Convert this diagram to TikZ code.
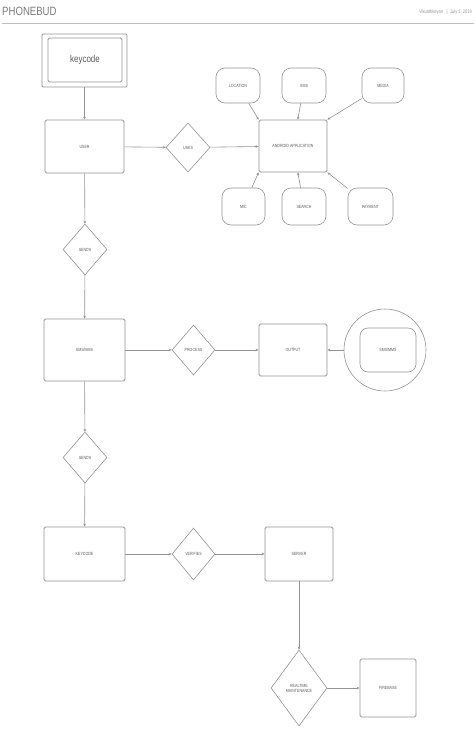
\documentclass[tikz,border=0pt]{standalone}
\usepackage{fontspec}
\setmainfont{Liberation Sans}
\newfontfamily\cond[FakeStretch=0.8]{Liberation Sans}
\usetikzlibrary{arrows.meta,shapes.geometric,calc}
\definecolor{ln}{HTML}{939393}
\definecolor{tx}{HTML}{5A5A5A}
\tikzset{
  lbl/.style={text=tx,font=\cond\fontsize{4.5}{5}\selectfont,align=center,inner sep=0pt},
  box/.style={draw=ln,line width=0.8pt,rounded corners=1.5pt,lbl},
  pill/.style={draw=ln,line width=0.6pt,rounded corners=9pt,lbl},
  dia/.style={draw=ln,line width=0.6pt,diamond,lbl},
  arr/.style={draw=ln,line width=0.6pt,-{Stealth[length=3pt,width=2.6pt]}},
}
\begin{document}
\begin{tikzpicture}[x=1pt,y=-1pt]
\useasboundingbox (0,0) rectangle (474,730);
% header
\node[anchor=west,text=ln!85!black,font=\cond\fontsize{12}{12}\selectfont,inner sep=0pt] (title) at (2,11) {PHONEBUD};
\node[anchor=east,text=ln,font=\cond\fontsize{5}{5}\selectfont,inner sep=0pt] (auth) at (472,12) {Vikunthkeyan \enspace|\enspace July 1, 2019};
\draw[ln!60,line width=0.5pt] (2,23) -- (474,23);
% keycode
\node[draw=ln,line width=0.8pt,minimum width=85pt,minimum height=53pt,rounded corners=1pt] (kco) at (84.5,60.5) {};
\node[box,minimum width=74pt,minimum height=44pt,font=\cond\fontsize{10}{10}\selectfont,text=tx] (kc) at (85,60) {keycode};
\node[box,minimum width=79pt,minimum height=53pt] (user) at (84.5,146.5) {USER};
\node[dia,minimum width=44pt,minimum height=49pt] (uses) at (188,147.5) {USES};
\node[box,minimum width=68pt,minimum height=52pt] (app) at (293,146) {ANDROID APPLICATION};
\node[pill,minimum width=44pt,minimum height=35pt] (loc) at (238,85.5) {LOCATION};
\node[pill,minimum width=44pt,minimum height=35pt] (sms) at (304,85.5) {SMS};
\node[pill,minimum width=42pt,minimum height=35pt] (media) at (383,85.5) {MEDIA};
\node[pill,minimum width=43pt,minimum height=37pt] (mic) at (243.5,206.5) {MIC};
\node[pill,minimum width=44pt,minimum height=37pt] (search) at (304,206.5) {SEARCH};
\node[pill,minimum width=45pt,minimum height=37pt] (pay) at (370.5,206.5) {PAYMENT};
\node[dia,minimum width=44pt,minimum height=51pt] (sends1) at (85,249.5) {SENDS};
\node[box,minimum width=81pt,minimum height=62pt] (smsmms) at (84.5,350) {SMS/MMS};
\node[dia,minimum width=43pt,minimum height=50pt] (proc) at (193.5,350) {PROCESS};
\node[box,minimum width=68pt,minimum height=52pt] (out) at (293,350) {OUTPUT};
\node[draw=ln,line width=0.6pt,circle,minimum size=82pt] (circ) at (385,350) {};
\node[pill,minimum width=56pt,minimum height=44pt,rounded corners=8pt] (smsin) at (388,350) {SMS/MMS};
\node[dia,minimum width=44pt,minimum height=51pt] (sends2) at (85,457.5) {SENDS};
\node[box,minimum width=81pt,minimum height=54pt] (key) at (84.5,554) {KEYCODE};
\node[dia,minimum width=43pt,minimum height=52pt] (ver) at (193.5,554) {VERIFIES};
\node[box,minimum width=68pt,minimum height=54pt] (server) at (299,554) {SERVER};
\node[dia,minimum width=56pt,minimum height=76pt] (rt) at (299,688) {REALTIME\\MAINTENANCE};
\node[box,minimum width=56pt,minimum height=58pt] (fb) at (388,688) {FIREBASE};
% connectors
\draw[arr] (kco) -- (user);
\draw[arr] (user) -- (uses);
\draw[arr] (uses) -- (app);
\draw[arr] (loc) -- (app.north west);
\draw[arr] (sms) -- (app);
\draw[arr] (media) -- (app.north east);
\draw[arr] (mic) -- (app.south west);
\draw[arr] (search) -- (app);
\draw[arr] (pay) -- (app.south east);
\draw[arr] (user) -- (sends1);
\draw[arr] (sends1) -- (smsmms);
\draw[arr] (smsmms) -- (proc);
\draw[arr] (proc) -- (out);
\draw[arr] (circ) -- (out);
\draw[arr] (smsmms) -- (sends2);
\draw[arr] (sends2) -- (key);
\draw[arr] (key) -- (ver);
\draw[arr] (ver) -- (server);
\draw[arr] (server) -- (rt);
\draw[arr] (rt) -- (fb);
\end{tikzpicture}
\end{document}
